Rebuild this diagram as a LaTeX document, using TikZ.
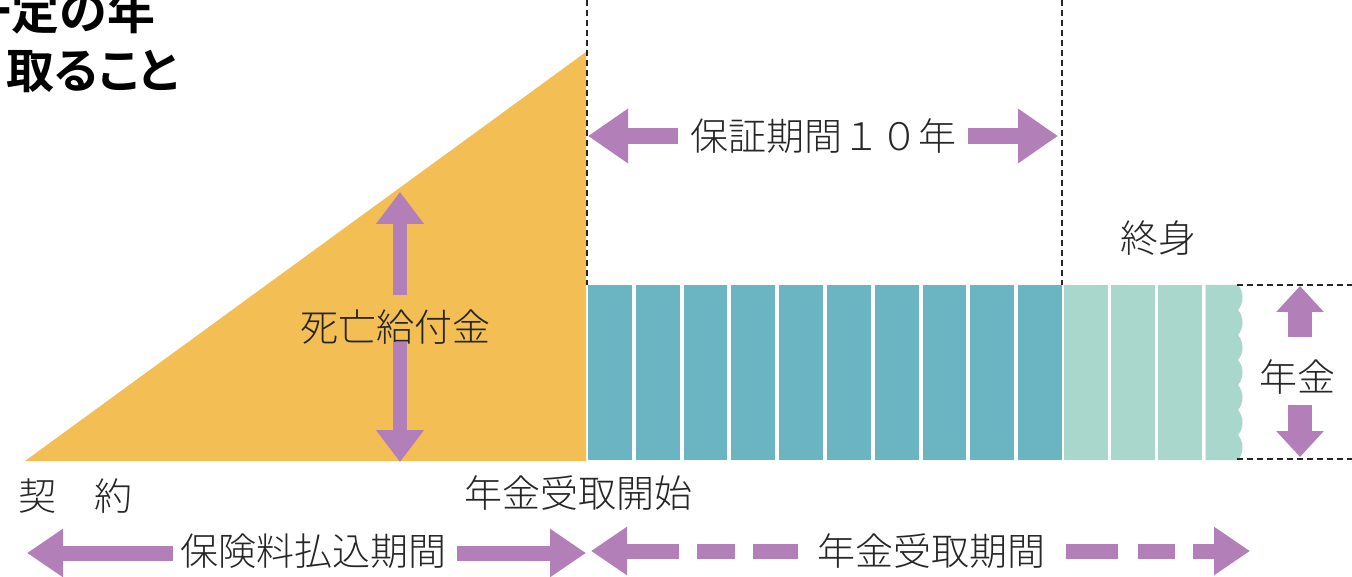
\documentclass[tikz,border=0pt]{standalone}
\usepackage{fontspec}
\newfontfamily\jpl{Noto Sans CJK JP Light}
\newfontfamily\jpb{Noto Sans CJK JP Bold}
\newfontfamily\jpbp{Noto Sans CJK JP Bold}[RawFeature=+palt]
\usetikzlibrary{arrows.meta}
\definecolor{gold}{RGB}{243,190,84}
\definecolor{tealA}{RGB}{106,181,193}
\definecolor{tealB}{RGB}{170,215,203}
\definecolor{purp}{RGB}{178,127,185}
\begin{document}
\begin{tikzpicture}[x=1pt,y=-1pt,
  lbl/.style={inner sep=0pt, font=\jpl\fontsize{38}{40}\selectfont, text=black!85},
  headline/.style={inner sep=0pt, anchor=base west, font=\jpb\fontsize{48}{50}\selectfont},
  guide/.style={draw=black!85, line width=1.3pt, dash pattern=on 6pt off 4pt},
  harrow/.style={draw=purp, line width=16pt, line cap=butt, -{Triangle[width=52pt,length=40pt]}},
  barrow/.style={draw=purp, line width=15pt, line cap=butt, -{Triangle[width=46pt,length=36pt]}},
  bdash/.style={draw=purp, line width=15pt, line cap=butt},
  varrow/.style={draw=purp, line width=14pt, line cap=butt, -{Triangle[width=46pt,length=32pt]}},
  rarrow/.style={draw=purp, line width=24pt, line cap=butt, -{Triangle[width=46pt,length=26pt]}}]
\useasboundingbox (0,0) rectangle (1352,577);
\fill[white] (0,0) rectangle (1352,577);

% headline (cut off at the picture's edge, as in the source)
\node[headline] (head1) at (-37,30) {一定の年};
\node[headline, font=\jpbp\fontsize{48}{50}\selectfont] (head2) at (6,89) {取ること};

% death benefit triangle
\fill[gold] (25,461) -- (586,52) -- (586,461) -- cycle;

% annuity bars
\foreach \i in {0,...,9} \fill[tealA] ({588+47.8*\i},285) rectangle ++(43.8,175);
\foreach \i in {0,1,2} \fill[tealB] ({1064+47.2*\i},285) rectangle ++(43.5,175);
\fill[tealB] (1205.6,285) -- (1238,285)
  \foreach \k in {0,...,6}{ .. controls (1244,{285+25*\k+7}) and (1244,{285+25*\k+18}) .. (1238,{285+25*(\k+1)}) }
  -- (1205.6,460) -- cycle;

% guide lines
\coordinate (vt1) at (587,0);   \coordinate (vb1) at (587,285);
\coordinate (vt2) at (1062,0);  \coordinate (vb2) at (1062,285);
\coordinate (ht1) at (1237,285); \coordinate (ht2) at (1352,285);
\coordinate (hb1) at (1237,459); \coordinate (hb2) at (1352,459);
\draw[guide] (vt1) -- (vb1);
\draw[guide] (vt2) -- (vb2);
\draw[guide] (ht1) -- (ht2);
\draw[guide] (hb1) -- (hb2);

% guarantee period
\node[lbl] (hosho) at (823,136) {保証期間１０年};
\coordinate (hL) at (588,136);  \coordinate (hLs) at (678,136);
\coordinate (hR) at (1058,136); \coordinate (hRs) at (968,136);
\draw[harrow] (hLs) -- (hL);
\draw[harrow] (hRs) -- (hR);

% death benefit
\node[lbl] (shibo) at (395,327) {死亡給付金};
\coordinate (sU) at (400,192); \coordinate (sUs) at (400,295);
\coordinate (sD) at (400,462); \coordinate (sDs) at (400,342);
\draw[varrow] (sUs) -- (sU);
\draw[varrow] (sDs) -- (sD);

% lifetime / annuity
\node[lbl] (shushin) at (1158,238) {終身};
\node[lbl] (nenkin) at (1297,377) {年金};
\coordinate (nU) at (1300,286); \coordinate (nUs) at (1300,337);
\coordinate (nD) at (1300,457); \coordinate (nDs) at (1300,405);
\draw[rarrow] (nUs) -- (nU);
\draw[rarrow] (nDs) -- (nD);

% bottom labels
\node[lbl] (keiyaku) at (76,496) {契　約};
\node[lbl] (kaishi) at (578,493) {年金受取開始};

% premium payment period
\node[lbl] (haraikomi) at (313,551) {保険料払込期間};
\coordinate (pL) at (27,553);  \coordinate (pLs) at (173,553);
\coordinate (pR) at (586,553); \coordinate (pRs) at (457,553);
\draw[barrow] (pLs) -- (pL);
\draw[barrow] (pRs) -- (pR);

% annuity receiving period
\node[lbl] (uketori) at (931,551) {年金受取期間};
\coordinate (aL) at (591,551);  \coordinate (aLs) at (679,551);
\coordinate (aR) at (1250,551); \coordinate (aRs) at (1193,551);
\draw[barrow] (aLs) -- (aL);
\coordinate (d1a) at (697,551); \coordinate (d1b) at (735,551);
\coordinate (d2a) at (753,551); \coordinate (d2b) at (798,551);
\coordinate (d3a) at (1066,551); \coordinate (d3b) at (1118,551);
\coordinate (d4a) at (1138,551); \coordinate (d4b) at (1175,551);
\draw[bdash] (d1a) -- (d1b);
\draw[bdash] (d2a) -- (d2b);
\draw[bdash] (d3a) -- (d3b);
\draw[bdash] (d4a) -- (d4b);
\draw[barrow] (aRs) -- (aR);
\end{tikzpicture}
\end{document}
